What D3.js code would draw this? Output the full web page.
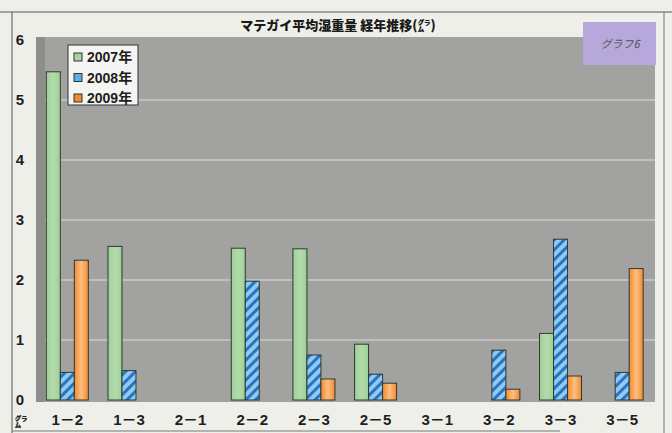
<!DOCTYPE html>
<html><head><meta charset="utf-8">
<script src="https://cdn.jsdelivr.net/npm/d3@7"></script>
<style>
html,body{margin:0;padding:0;background:#efefea;}
svg{display:block;}
</style></head>
<body>
<script>
const categories = ["1－2","1－3","2－1","2－2","2－3","2－5","3－1","3－2","3－3","3－5"];
const seriesNames = ["2007年","2008年","2009年"];
const v2007 = [5.47, 2.56, 0, 2.53, 2.52, 0.93, 0, 0, 1.11, 0];
const v2008 = [0.46, 0.49, 0, 1.98, 0.75, 0.43, 0, 0.83, 2.68, 0.46];
const v2009 = [2.33, 0, 0, 0, 0.35, 0.28, 0, 0.18, 0.40, 2.19];
const yTicks = [0,1,2,3,4,5,6];
const title = "マテガイ平均湿重量 経年推移(㌘)";
const badge = "グラフ6";
const unitLabel = "㌘";

const W = 672, H = 433;
const svg = d3.select("body").append("svg").attr("width", W).attr("height", H);
const defs = svg.append("defs");

// hatch for 2008
const pat = defs.append("pattern").attr("id","hatch").attr("patternUnits","userSpaceOnUse")
  .attr("width",7).attr("height",7).attr("patternTransform","rotate(45)");
pat.append("rect").attr("width",7).attr("height",7).attr("fill","#8fcaf0");
pat.append("rect").attr("width",3).attr("height",7).attr("fill","#2a72c2");
// orange gradient
const og = defs.append("linearGradient").attr("id","og").attr("x1","0").attr("x2","1").attr("y1","0").attr("y2","0");
og.append("stop").attr("offset","0").attr("stop-color","#f28a32");
og.append("stop").attr("offset","0.5").attr("stop-color","#fcbf7e");
og.append("stop").attr("offset","1").attr("stop-color","#f28a32");
const gg = defs.append("linearGradient").attr("id","gg").attr("x1","0").attr("x2","1").attr("y1","0").attr("y2","0");
gg.append("stop").attr("offset","0").attr("stop-color","#9fcf98");
gg.append("stop").attr("offset","0.5").attr("stop-color","#b2dcab");
gg.append("stop").attr("offset","1").attr("stop-color","#9fcf98");
const fills = ["url(#gg)","url(#hatch)","url(#og)"];
const swatchFills = ["#a8d4a0","#5aaee6","#f08a30"];

// frame
svg.append("line").attr("x1",0).attr("x2",W).attr("y1",12).attr("y2",12).attr("stroke","#555").attr("stroke-width",1);
svg.append("line").attr("x1",12).attr("x2",12).attr("y1",12).attr("y2",H).attr("stroke","#555").attr("stroke-width",1);
svg.append("line").attr("x1",664).attr("x2",664).attr("y1",12).attr("y2",H).attr("stroke","#777").attr("stroke-width",1);
svg.append("line").attr("x1",12).attr("x2",560).attr("y1",431).attr("y2",431).attr("stroke","#777").attr("stroke-width",1);

const plotL = 36, plotR = 655, plotT = 37, plotB = 402;
const x0 = d3.scaleBand().domain(categories).range([36.5, 653]).paddingInner(0).paddingOuter(0);
const y = d3.scaleLinear().domain([0,6]).range([400, 40]);

// plot background
svg.append("rect").attr("x",plotL).attr("y",plotT).attr("width",plotR-plotL).attr("height",plotB-plotT).attr("fill","#a2a2a0");
svg.append("rect").attr("x",plotL).attr("y",plotT).attr("width",9).attr("height",plotB-plotT).attr("fill","#8d8d8b");

// gridlines
svg.append("g").selectAll("line").data(yTicks.filter(d=>d>0 && d<6)).join("line")
  .attr("x1",45).attr("x2",plotR).attr("y1",d=>y(d)).attr("y2",d=>y(d))
  .attr("stroke","#dcdcda").attr("stroke-width",1.2);

// y tick labels
svg.append("g").selectAll("text").data(yTicks).join("text")
  .attr("x",20).attr("y",d=>y(d)).attr("dy","0.36em").attr("text-anchor","middle")
  .attr("font-family","Liberation Sans, Arial, sans-serif").attr("font-weight","bold")
  .attr("font-size",15).attr("fill","#1e1e1e").text(d=>d);

// bars
const series = [v2007, v2008, v2009];
const barW = 14;
const gBars = svg.append("g");
series.forEach((vals, si) => {
  gBars.selectAll(null).data(categories.map((c,i)=>({c, v: vals[i]})).filter(d=>d.v>0)).join("rect")
    .attr("x", d => x0(d.c) + x0.bandwidth()/2 + (si-1.5)*barW)
    .attr("y", d => y(d.v))
    .attr("width", barW)
    .attr("height", d => y(0) - y(d.v))
    .attr("fill", fills[si])
    .attr("stroke","#2e3a30").attr("stroke-width",1);
});

// x labels
svg.append("g").selectAll("text").data(categories).join("text")
  .attr("x", d => x0(d) + x0.bandwidth()/2).attr("y", 420).attr("dy","0.36em")
  .attr("text-anchor","middle")
  .attr("font-family","Liberation Sans, Noto Sans CJK JP, sans-serif").attr("font-weight","bold")
  .attr("font-size",15).attr("fill","#1e1e1e").text(d=>d);
svg.append("text").attr("x",21).attr("y",421).attr("dy","0.36em").attr("text-anchor","middle")
  .attr("font-family","Noto Sans CJK JP, sans-serif").attr("font-weight","900").attr("font-size",13)
  .attr("fill","#1e1e1e").text(unitLabel);

// title
svg.append("text").attr("x",338).attr("y",25).attr("dy","0.36em").attr("text-anchor","middle")
  .attr("font-family","Noto Sans CJK JP, sans-serif").attr("font-weight","900").attr("font-size",13)
  .attr("fill","#1a1a1a").text(title);

// badge
svg.append("rect").attr("x",583).attr("y",22).attr("width",73).attr("height",43).attr("fill","#b7a8dc");
svg.append("text").attr("x",620).attr("y",44).attr("dy","0.36em").attr("text-anchor","middle")
  .attr("font-family","Noto Sans CJK JP, sans-serif").attr("font-style","italic").attr("font-size",11)
  .attr("fill","#555").text(badge);

// legend
const lg = svg.append("g");
lg.append("rect").attr("x",68).attr("y",45).attr("width",70).attr("height",60).attr("fill","#f4f4f2").attr("stroke","#333").attr("stroke-width",1);
seriesNames.forEach((n,i)=>{
  const cy = 57 + i*20.5;
  lg.append("rect").attr("x",74).attr("y",cy-4).attr("width",8).attr("height",8).attr("fill",swatchFills[i]).attr("stroke","#333").attr("stroke-width",1);
  lg.append("text").attr("x",87).attr("y",cy).attr("dy","0.36em")
    .attr("font-family","Liberation Sans, Noto Sans CJK JP, sans-serif").attr("font-weight","bold")
    .attr("font-size",14).attr("fill","#1e1e1e").text(n);
});
</script>
</body></html>
